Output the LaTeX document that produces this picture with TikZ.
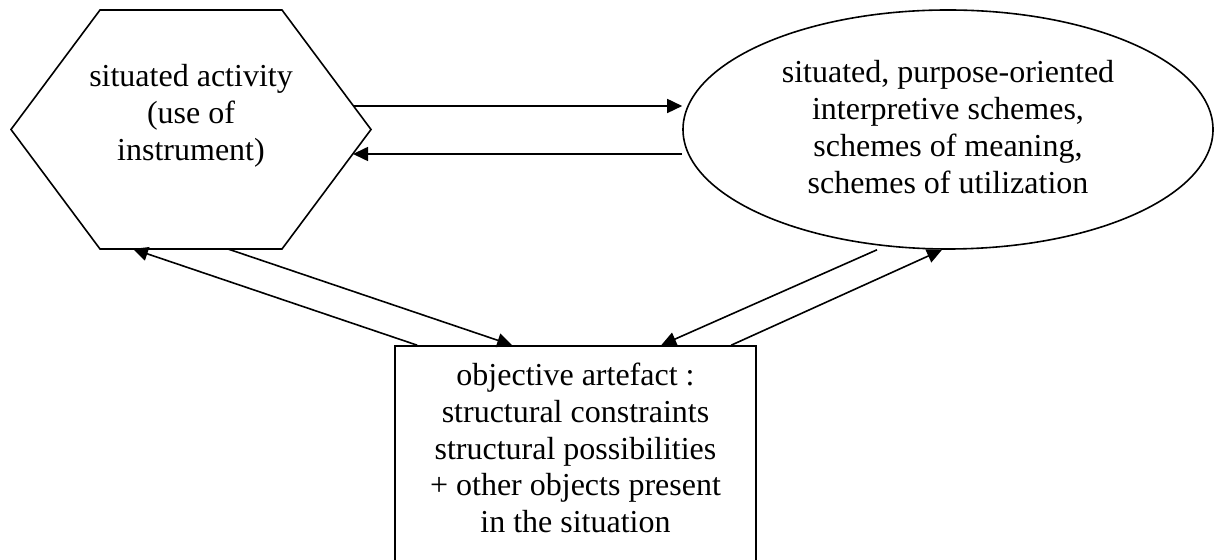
\documentclass[tikz,border=0pt]{standalone}
\usepackage{fontspec}
\setmainfont{Liberation Serif}
\usetikzlibrary{arrows.meta,calc,shapes.geometric}

\begin{document}
\begin{tikzpicture}[x=0.5pt,y=-0.5pt,
		shp/.style={draw,line width=0.8pt,inner sep=0pt},
		lbl/.style={align=center,inner sep=0pt,font=\fontsize{16}{18.4}\selectfont},
		arr/.style={line width=0.8pt,-{Triangle[length=7.5pt,width=7pt]}}]
		%%%%% START %%%%%
		
		\useasboundingbox (0,0) rectangle (1220,560);
		
		% hexagon: activity
		\draw[line width=0.8pt] (11,129.5) -- (100,10) -- (282,10) -- (371,129.5) -- (282,249) -- (100,249) -- cycle;
		\node[lbl] (activity) at (191,116) {situated activity\\(use of\\instrument)};
		\coordinate (hexA) at (353,106);
		\coordinate (hexB) at (353,154);
		\coordinate (hexC) at (228,249);
		\coordinate (hexD) at (133,249);
		
		% ellipse: schemes
		\node[shp, ellipse, minimum width=265pt, minimum height=119.5pt] (schemes) at (948,129.5) {};
		\node[lbl] (schemesText) at (948,127) {situated, purpose-oriented\\interpretive schemes,\\schemes of meaning,\\schemes of utilization};
		
		% box: artefact
		\node[shp, rectangle, minimum width=180.5pt, minimum height=108pt] (artefact) at (575.5,454) {};
		\node[lbl] (artefactText) at (575.5,448) {objective artefact :\\structural constraints\\structural possibilities\\+ other objects present\\in the situation};
		
		\draw[arr] (hexA) -- (schemes.west |- hexA);
		\draw[arr] (schemes.west |- hexB) -- (hexB);
		
		\draw[arr] (hexC) -- ($(artefact.north west)+(118,0)$);
		\draw[arr] ($(artefact.north west)+(23,0)$) -- (hexD);
		
		\draw[arr] ($(schemes.south)+(-71,0)$) -- ($(artefact.north west)+(267,0)$);
		\draw[arr] ($(artefact.north west)+(337,0)$) -- ($(schemes.south)+(-6,0)$);
		
		%%%%% END %%%%%
\end{tikzpicture}
\end{document}
